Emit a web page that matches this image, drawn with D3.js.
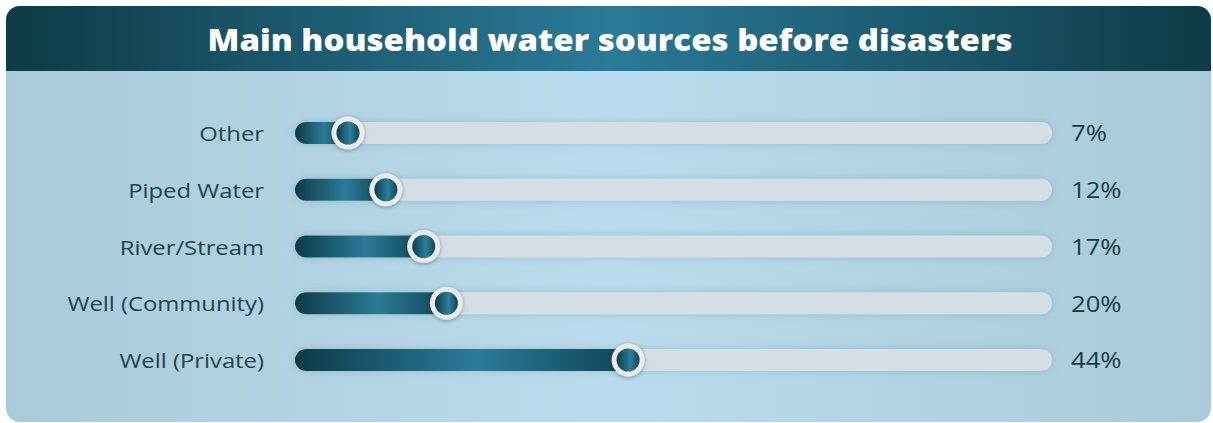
<!DOCTYPE html>
<html><head><meta charset="utf-8">
<script src="https://cdn.jsdelivr.net/npm/d3@7"></script>
<style>html,body{margin:0;padding:0;background:#fff;overflow:hidden}</style>
</head><body>
<svg id="chart" width="1213" height="423"></svg>
<script>
const title = "Main household water sources before disasters";
const categories = ["Other", "Piped Water", "River/Stream", "Well (Community)", "Well (Private)"];
const values = [7, 12, 17, 20, 44];
const valueLabels = ["7%", "12%", "17%", "20%", "44%"];

const svg = d3.select("#chart");
const defs = svg.append("defs");

function hGrad(id, stops) {
  const g = defs.append("linearGradient").attr("id", id).attr("x1", "0%").attr("x2", "100%").attr("y1", "0%").attr("y2", "0%");
  stops.forEach(s => g.append("stop").attr("offset", s[0]).attr("stop-color", s[1]));
  return g;
}
hGrad("bgGrad", [["0%", "#a9cad8"], ["50%", "#badcee"], ["100%", "#a9cad8"]]);
hGrad("hdGrad", [["0%", "#0d3a46"], ["50%", "#2a7a98"], ["100%", "#0d3a46"]]);
hGrad("fillGrad", [["0%", "#0c3b49"], ["55%", "#2b7b99"], ["100%", "#0e4454"]]);
hGrad("knobGrad", [["0%", "#0c3d4b"], ["60%", "#2d7e9c"], ["100%", "#0e4352"]]);

const sh = defs.append("filter").attr("id", "shadow").attr("x", "-50%").attr("y", "-50%").attr("width", "200%").attr("height", "200%");
sh.append("feDropShadow").attr("dx", 0).attr("dy", 1).attr("stdDeviation", 2).attr("flood-color", "#000").attr("flood-opacity", 0.35);
const glow = defs.append("filter").attr("id", "glow").attr("x", "-10%").attr("y", "-100%").attr("width", "120%").attr("height", "300%");
glow.append("feDropShadow").attr("dx", 0).attr("dy", 0).attr("stdDeviation", 4).attr("flood-color", "#5a8ea3").attr("flood-opacity", 0.35);

const clip = defs.append("clipPath").attr("id", "cardClip");
clip.append("rect").attr("x", 6).attr("y", 6).attr("width", 1205).attr("height", 416).attr("rx", 14);

const g = svg.append("g").attr("clip-path", "url(#cardClip)");
g.append("rect").attr("x", 6).attr("y", 6).attr("width", 1205).attr("height", 416).attr("fill", "url(#bgGrad)");
g.append("rect").attr("x", 6).attr("y", 6).attr("width", 1205).attr("height", 65).attr("fill", "url(#hdGrad)");

function stretch(sel, k) {
  sel.each(function () {
    const len = this.getComputedTextLength();
    d3.select(this).attr("textLength", len * k).attr("lengthAdjust", "spacingAndGlyphs");
  });
}

const t = svg.append("text").attr("x", 610).attr("y", 51).attr("text-anchor", "middle")
  .attr("font-family", "'Open Sans', sans-serif").attr("font-weight", 800).attr("font-size", 30)
  .attr("fill", "#ffffff").text(title);
stretch(t, 1.0);
t.attr("textLength", 805);

const x = d3.scaleLinear().domain([0, 100]).range([295, 1052]);
const y = d3.scalePoint().domain(categories).range([133, 360]);
const trackH = 22;

const rows = svg.selectAll("g.row").data(categories.map((c, i) => ({c, v: values[i], l: valueLabels[i]})))
  .enter().append("g").attr("class", "row").attr("transform", d => `translate(0,${y(d.c)})`);

rows.append("rect").attr("x", x(0)).attr("y", -trackH / 2).attr("width", x(100) - x(0)).attr("height", trackH)
  .attr("rx", trackH / 2).attr("fill", "#d5dee4").attr("filter", "url(#glow)");
rows.append("rect").attr("x", x(0)).attr("y", -trackH / 2).attr("width", d => x(d.v) - x(0)).attr("height", trackH)
  .attr("rx", trackH / 2).attr("fill", "url(#fillGrad)");
rows.append("circle").attr("cx", d => x(d.v)).attr("cy", 0).attr("r", 16.5).attr("fill", "#e9ebed").attr("filter", "url(#shadow)");
rows.append("circle").attr("cx", d => x(d.v)).attr("cy", 0).attr("r", 11.5).attr("fill", "url(#knobGrad)");

const cl = rows.append("text").attr("x", 264).attr("y", 1).attr("dy", "0.35em").attr("text-anchor", "end")
  .attr("font-family", "'Open Sans', sans-serif").attr("font-size", 20).attr("fill", "#1a4550").text(d => d.c);
stretch(cl, 1.19);
const vl = rows.append("text").attr("x", 1071).attr("y", 1).attr("dy", "0.35em").attr("text-anchor", "start")
  .attr("font-family", "'Open Sans', sans-serif").attr("font-size", 21).attr("fill", "#0f3d47").text(d => d.l);
stretch(vl, 1.22);
</script>
</body></html>
